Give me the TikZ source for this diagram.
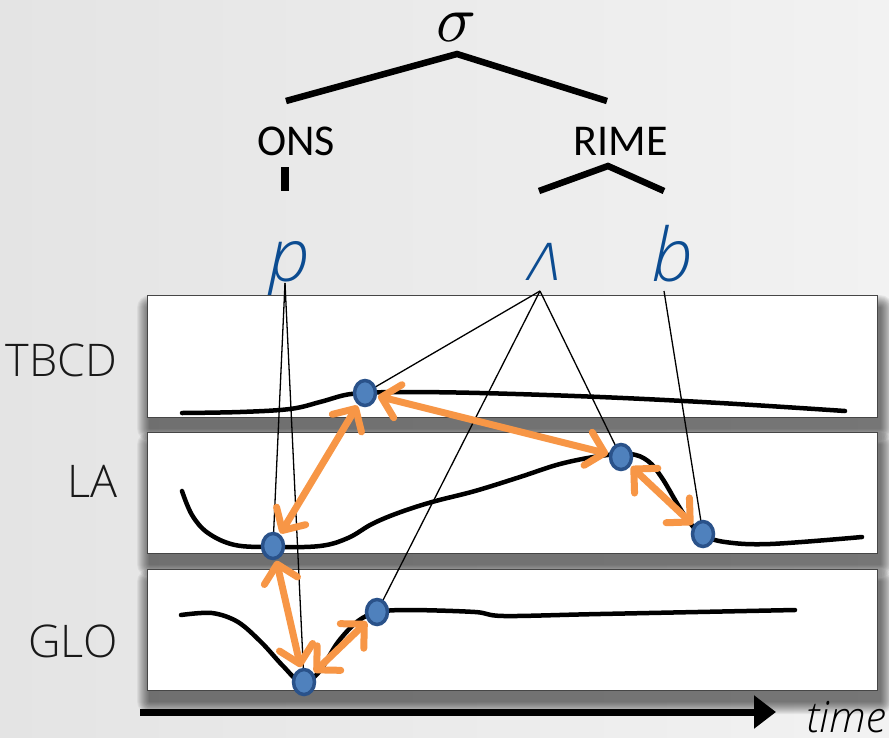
\documentclass[tikz,border=0pt]{standalone}
\usepackage{fontspec}
\usetikzlibrary{arrows.meta,shapes.geometric}
\setmainfont{Carlito}
\newfontfamily\osans{Open Sans}
\IfFontExistsTF{Open Sans Light}{\newfontfamily\lightrm{Open Sans Light}}{%
  \IfFontExistsTF{Lato Light}{\newfontfamily\lightrm{Lato Light}}{\newcommand\lightrm{\osans}}}
\IfFontExistsTF{Open Sans Light Italic}{\newfontfamily\lightit{Open Sans Light Italic}}{%
  \IfFontExistsTF{Lato Light Italic}{\newfontfamily\lightit{Lato Light Italic}}{\newcommand\lightit{\osans\itshape}}}
\IfFontExistsTF{Noto Sans Light}{\newfontfamily\ipait{Noto Sans Light}[FakeSlant=0.22]}{%
  \IfFontExistsTF{DejaVu Sans ExtraLight}{\newfontfamily\ipait{DejaVu Sans ExtraLight}[FakeSlant=0.22]}{\newfontfamily\ipait{DejaVu Sans}[FakeSlant=0.22]}}
\definecolor{bgl}{RGB}{228,228,228}
\definecolor{bgr}{RGB}{242,242,242}
\definecolor{seg}{RGB}{12,76,145}
\definecolor{orng}{RGB}{247,150,70}
\definecolor{dotfill}{RGB}{79,129,189}
\definecolor{dotedge}{RGB}{42,82,138}
\definecolor{frame}{RGB}{70,70,70}
\newcommand\softshadow[4]{%
  \foreach \r in {1,...,13}{%
    \fill[black,opacity=0.05,rounded corners=\r pt] (#1+3-\r,#2+13-\r) rectangle (#3+3+\r,#4+11+\r);}}
\tikzset{
  treeline/.style={line width=6.5pt,black},
  trackbox/.style={fill=white,draw=frame,line width=1pt},
  curve/.style={line width=4.5pt,black,line cap=round,line join=round},
  assoc/.style={line width=1.3pt,black},
  link/.style={line width=7pt,orng,{Straight Barb[length=17pt,width=34pt,round]}-{Straight Barb[length=17pt,width=34pt,round]},shorten <=1pt,shorten >=1pt},
  dot/.style={ellipse,fill=dotfill,draw=dotedge,line width=3.5pt,minimum width=21pt,minimum height=25pt,inner sep=0pt},
  tracklabel/.style={anchor=base east,font=\lightrm\fontsize{45}{50}\selectfont,text=black!90},
  segment/.style={anchor=base,text=seg},
  constit/.style={anchor=base,font=\fontsize{44}{48}\selectfont}
}
\begin{document}
\begin{tikzpicture}[x=1pt,y=-1pt]
\useasboundingbox (0,0) rectangle (889,737);
\shade[left color=bgl,right color=bgr] (0,0) rectangle (889,737);

% syllable tree
\node[anchor=base,inner sep=0pt,scale=6.6] (sigma) at (457,41) {$\sigma$};
\coordinate (sapex) at (457,54);
\coordinate (onsL) at (286,101);
\coordinate (rimeR) at (607,101);
\draw[treeline] (onsL) -- (sapex) -- (rimeR);
\node[constit] (ons) at (296,155) {ONS};
\node[constit] (rime) at (621,155) {RIME};
\coordinate (onsT) at (285,167);
\coordinate (onsB) at (285,191);
\draw[line width=8pt] (onsT) -- (onsB);
\coordinate (rimeL) at (539,191);
\coordinate (rapex) at (608,166);
\coordinate (rimeRR) at (664,191);
\draw[treeline] (rimeL) -- (rapex) -- (rimeRR);

% segments
\node[segment,font=\lightit\fontsize{74}{78}\selectfont] (p) at (289,281) {p};
\node[segment,font=\ipait\fontsize{68}{72}\selectfont] (v) at (542,280) {ʌ};
\node[segment,font=\lightit\fontsize{74}{78}\selectfont] (b) at (672,281) {b};
\coordinate (pfoot) at (285,283);
\coordinate (vfoot) at (540,291);
\coordinate (bfoot) at (664,291);

% track boxes with soft shadows
\softshadow{147}{295}{877}{417}
\softshadow{147}{432}{877}{553}
\softshadow{147}{569}{877}{690}
\node[trackbox,minimum width=730pt,minimum height=122pt,inner sep=0pt,anchor=north west] (box1) at (147,295) {};
\node[trackbox,minimum width=730pt,minimum height=121pt,inner sep=0pt,anchor=north west] (box2) at (147,432) {};
\node[trackbox,minimum width=730pt,minimum height=121pt,inner sep=0pt,anchor=north west] (box3) at (147,569) {};

% labels
\node[tracklabel] (tbcd) at (121,376) {TBCD};
\node[tracklabel] (la) at (121,497) {LA};
\node[tracklabel] (glo) at (121,657) {GLO};

% curves
\draw[curve] plot[smooth,tension=0.6] coordinates {(182,413) (240,412) (290,409) (320,402) (345,395) (365,393) (400,392) (480,393) (600,397) (720,403) (845,411)};
\draw[curve] plot[smooth,tension=0.6] coordinates {(182,491) (192,515) (208,533) (235,545) (273,547) (320,546) (348,538) (372,524) (398,513) (432,502) (475,491) (520,477) (560,464) (600,456) (630,454) (648,461) (662,478) (678,505) (690,523) (703,535) (725,542) (770,544) (862,537)};
\draw[curve] plot[smooth,tension=0.55] coordinates {(181,615) (212,613) (238,622) (262,643) (283,666) (302,683) (319,672) (338,642) (358,621) (378,612) (410,610) (475,612) (504,616) (600,614) (795,610)};

% dots (positions)
\coordinate (tb1) at (365,393);
\coordinate (la1) at (273,546);
\coordinate (la2) at (621,457);
\coordinate (la3) at (703,534);
\coordinate (gl1) at (304,682);
\coordinate (gl2) at (377,612);

% association lines
\draw[assoc] (pfoot) -- (la1);
\draw[assoc] (pfoot) -- (gl1);
\draw[assoc] (vfoot) -- (tb1);
\draw[assoc] (vfoot) -- (gl2);
\draw[assoc] (vfoot) -- (la2);
\draw[assoc] (bfoot) -- (la3);

% dots
\node[dot] (d1) at (tb1) {};
\node[dot] (d2) at (la1) {};
\node[dot] (d3) at (la2) {};
\node[dot] (d4) at (la3) {};
\node[dot] (d5) at (gl1) {};
\node[dot] (d6) at (gl2) {};

% orange links
\draw[link] (d1) -- (d2);
\draw[link] (d1) -- (d3);
\draw[link] (d3) -- (d4);
\draw[link] (d2) -- (d5);
\draw[link] (d5) -- (d6);

% time axis
\coordinate (tstart) at (140,712);
\coordinate (tend) at (776,712);
\draw[line width=7pt,-{Triangle[length=22pt,width=32pt]}] (tstart) -- (tend);
\node[anchor=base east,inner sep=0pt,font=\lightit\fontsize{43}{46}\selectfont] (time) at (886,732) {time};
\end{tikzpicture}
\end{document}
